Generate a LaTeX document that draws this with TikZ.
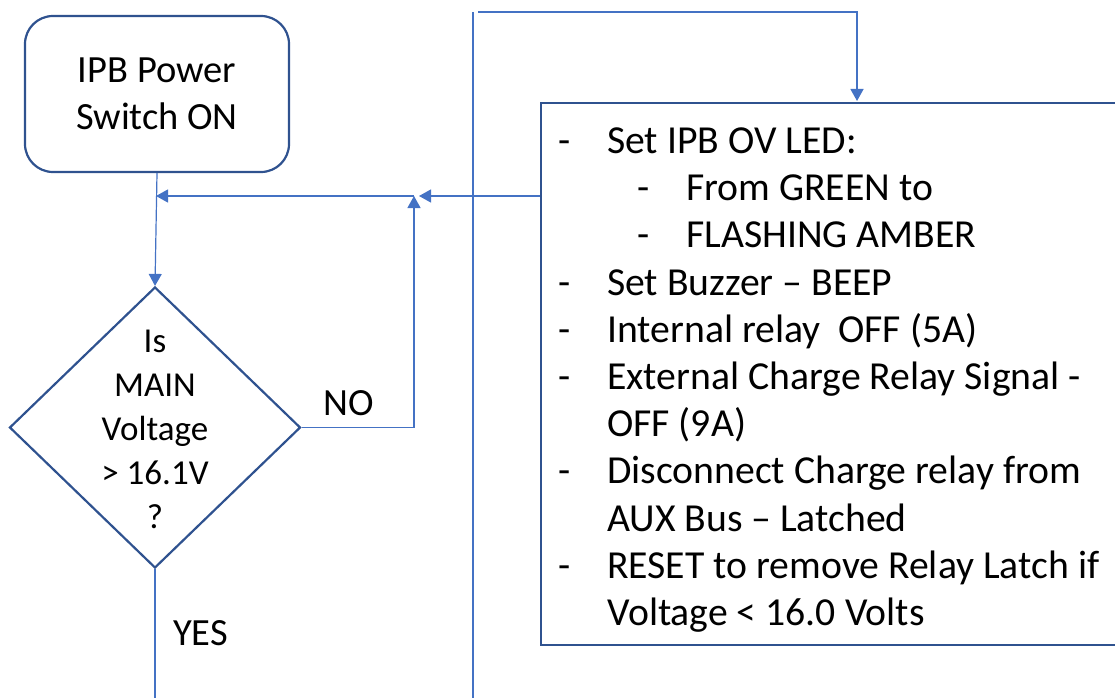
\documentclass[tikz,border=0pt]{standalone}
\usepackage{fontspec}
\setmainfont{Carlito}
\usetikzlibrary{shapes.geometric,arrows.meta}
\definecolor{conncol}{HTML}{4472C4}
\definecolor{boxcol}{HTML}{2F528F}
\tikzset{
  conn/.style={draw=conncol, line width=1.2pt},
  arr/.style={conn, -{Triangle[length=12pt,width=13pt]}},
  startbox/.style={draw=boxcol, line width=2.2pt, rounded corners=28pt, minimum width=264pt, minimum height=156pt, inner sep=0pt, align=center, font=\fontsize{38.5pt}{47pt}\selectfont},
  decbox/.style={draw=boxcol, line width=2.2pt, diamond, minimum width=291pt, minimum height=281pt, inner sep=0pt},
  dectext/.style={align=center, inner sep=0pt, font=\fontsize{35pt}{44pt}\selectfont},
  actbox/.style={draw=boxcol, line width=2.2pt, minimum width=600pt, minimum height=542pt, inner sep=0pt},
  acttext/.style={align=left, inner sep=0pt, anchor=north west, font=\fontsize{39.7pt}{47.2pt}\selectfont},
  lbl/.style={inner sep=0pt, font=\fontsize{38.5pt}{47pt}\selectfont}
}
\newcommand{\dsh}{\makebox[49pt][l]{-}}
\begin{document}
\begin{tikzpicture}[x=1pt,y=-1pt]
\path[use as bounding box] (0,0) rectangle (1115,698);
\clip (0,0) rectangle (1115,698);
% nodes
\node[startbox] (start) at (157,94) {IPB Power\\Switch ON};
\node[decbox] (dec) at (155,427.5) {};
\node[dectext] (dect) at (155,429) {Is\\MAIN\\Voltage\\> 16.1V\\?};
\node[actbox] (act) at (841,374) {};
\node[acttext] (actt) at (558,127.5) {%
\dsh Set IPB OV LED:\\
\hspace{79pt}\dsh From GREEN to\\
\hspace{79pt}\dsh FLASHING AMBER\\
\dsh Set Buzzer – BEEP\\
\dsh Internal relay\ \ OFF (5A)\\
\dsh External Charge Relay Signal -\\
\hspace{49pt}OFF (9A)\\
\dsh Disconnect Charge relay from\\
\hspace{49pt}AUX Bus – Latched\\
\dsh RESET to remove Relay Latch if\\
\hspace{49pt}Voltage < 16.0 Volts};
\node[lbl, anchor=base west] (no) at (323,415) {NO};
\node[lbl, anchor=base west] (yes) at (173,645) {YES};
% coordinates
\coordinate (j0) at (156,196);
\coordinate (j1) at (414,196);
\coordinate (t0) at (478,12);
\coordinate (t1) at (857,101);
\coordinate (v0) at (473,12);
\coordinate (v1) at (473,698);
\coordinate (yend) at (155,698);
% connectors
\draw[arr] (start.south) -- (dec.north);
\draw[arr] (act.west |- j1) -- ([xshift=5pt]j1);
\draw[arr] (j1) -- (j0);
\draw[arr] (dec.east) -| (j1);
\draw[arr] (t0) -| (t1);
\draw[conn] (v0) -- (v1);
\draw[conn] (dec.south) -- (yend);
\end{tikzpicture}
\end{document}
